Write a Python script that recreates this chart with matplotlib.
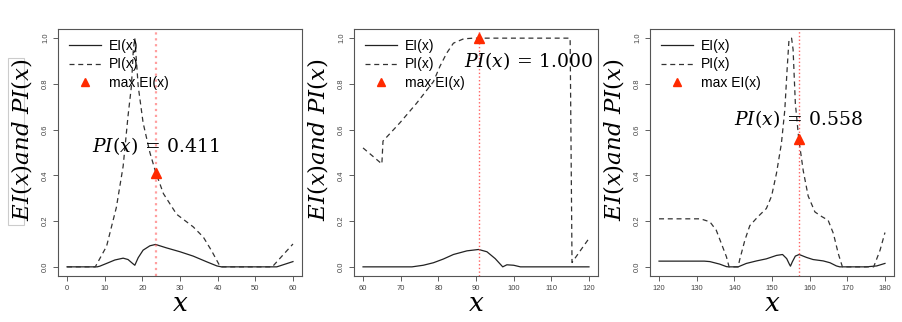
import matplotlib
matplotlib.use("Agg")
import matplotlib.pyplot as plt
from matplotlib.lines import Line2D
from matplotlib.patches import Rectangle

plt.rcParams['font.family'] = ['Liberation Sans', 'DejaVu Sans']
plt.rcParams['mathtext.fontset'] = 'dejavuserif'

# panel 1 (x 0..60)
x1 = [0, 7.5, 10.5, 13.1, 14.9, 16.2, 17.1, 17.6, 18.0, 18.9, 20.2, 22.0, 23.5, 25.6, 29.1, 33.5, 36.2, 38.4, 40.7, 54.5, 60]
pi1 = [0, 0, 0.09, 0.26, 0.44, 0.66, 0.79, 0.95, 1.0, 0.79, 0.63, 0.50, 0.416, 0.32, 0.23, 0.175, 0.13, 0.07, 0.0, 0.0, 0.10]
xe1 = [0, 8.0, 8.7, 10.5, 12.7, 14.9, 16.2, 17.4, 18.0, 18.9, 20.2, 22.0, 23.5, 26.4, 30.0, 33.5, 37.1, 39.8, 41.0, 55.7, 60]
ei1 = [0, 0, 0.003, 0.015, 0.03, 0.038, 0.032, 0.015, 0.007, 0.04, 0.073, 0.092, 0.098, 0.083, 0.066, 0.047, 0.022, 0.004, 0.0, 0.0, 0.023]

# panel 2 (x 60..120)
x2 = [60, 65.0, 65.3, 69.8, 74.2, 78.7, 80.4, 82.2, 84.0, 86.7, 89.3, 115.0, 115.5, 117.8, 120]
pi2 = [0.52, 0.45, 0.55, 0.63, 0.715, 0.81, 0.876, 0.934, 0.978, 0.997, 1.0, 1.0, 0.019, 0.073, 0.124]
xe2 = [60, 73.0, 76.0, 78.7, 81.3, 84.0, 87.6, 90.7, 92.9, 95.1, 97.1, 98.2, 100.0, 101.8, 120]
ei2 = [0, 0, 0.007, 0.018, 0.034, 0.054, 0.07, 0.076, 0.066, 0.036, 0.0, 0.009, 0.007, 0.0, 0]

# panel 3 (x 120..180)
x3 = [120, 131, 133.5, 135.2, 136.6, 137.9, 138.6, 141.0, 141.4, 142.8, 144.1, 146.3, 148.5, 149.9, 151.2, 152.5,
      153.4, 154.0, 154.5, 155.2, 155.6, 156.2, 157.1, 158.3, 159.6, 161.4, 163.2, 164.9, 166.3, 167.6, 168.7,
      177.0, 178.7, 180]
pi3 = [0.21, 0.21, 0.197, 0.16, 0.10, 0.044, 0.0, 0.0, 0.03, 0.117, 0.18, 0.22, 0.255, 0.31, 0.41, 0.54,
       0.686, 0.86, 0.99, 1.0, 0.95, 0.715, 0.56, 0.42, 0.31, 0.24, 0.22, 0.204, 0.146, 0.058, 0.0,
       0.0, 0.073, 0.15]
xe3 = [120, 132, 133.5, 136.1, 137.9, 138.5, 141.0, 143.2, 145.9, 148.5, 151.2, 152.8, 153.9, 154.6, 154.9, 155.4,
       156.2, 157.2, 159.2, 160.9, 163.6, 165.4, 167.1, 168.0, 175.0, 177.8, 180]
ei3 = [0.025, 0.025, 0.023, 0.012, 0.001, 0.0, 0.0, 0.015, 0.026, 0.035, 0.05, 0.054, 0.036, 0.012, 0.003, 0.022,
       0.047, 0.054, 0.041, 0.032, 0.026, 0.018, 0.004, 0.0, 0.0, 0.004, 0.015]

xmax = [23.5, 90.7, 157.3]
pimax = [0.411, 1.000, 0.558]
xlims = [(0, 60), (60, 120), (120, 180)]
textpos = [(23.5, 0.53), (103.8, 0.9), (157.0, 0.645)]

fig = plt.figure(figsize=(9.02, 3.22), dpi=100)
lefts = [58, 354, 650]
panels = [(x1, pi1, xe1, ei1), (x2, pi2, xe2, ei2), (x3, pi3, xe3, ei3)]

for i, (xp, pp, xe, ee) in enumerate(panels):
    ax = fig.add_axes([lefts[i] / 902, 46 / 322, 244 / 902, 247 / 322])
    lo, hi = xlims[i]
    pad = (hi - lo) * 0.04
    ax.set_xlim(lo - pad, hi + pad)
    ax.set_ylim(-0.04, 1.04)
    ax.plot(xe, ee, color='#222222', lw=0.9)
    ax.plot(xp, pp, color='#333333', lw=0.9, dashes=(4, 3))
    ax.axvline(xmax[i], color='#ff5050', lw=1.0 if i else 1.6, ls=':', alpha=0.9 if i else 0.55)
    ax.plot([xmax[i]], [pimax[i]], marker='^', color='#ff2a00', ms=7, ls='none', clip_on=False)
    ax.text(textpos[i][0], textpos[i][1], r'$PI(x)\,=\,%.3f$' % pimax[i], fontsize=13.5,
            ha='center', va='center')
    ax.set_xticks(range(lo, hi + 1, 10))
    ax.set_yticks([0, 0.2, 0.4, 0.6, 0.8, 1.0])
    ax.set_yticklabels(['0.0', '0.2', '0.4', '0.6', '0.8', '1.0'], rotation=90, va='center')
    ax.tick_params(labelsize=5.5, colors='#444444', length=3.5, width=0.6, pad=3)
    for s in ax.spines.values():
        s.set_color('#555555')
        s.set_linewidth(0.8)
    ax.set_xlabel(r'$x$', fontsize=19, labelpad=0)
    ax.set_ylabel(r'$EI(x)and\ PI(x)$', fontsize=16.5)
    ax.yaxis.set_label_coords(-0.10, 0.55)
    handles = [Line2D([], [], color='#222222', lw=0.9),
               Line2D([], [], color='#333333', lw=0.9, dashes=(4, 3)),
               Line2D([], [], marker='^', color='#ff2a00', ls='none', ms=6)]
    ax.legend(handles, ['EI(x)', 'PI(x)', 'max EI(x)'], loc='upper left', frameon=False,
              fontsize=10, handlelength=2.3, handletextpad=0.6, labelspacing=0.35,
              borderaxespad=0.2, bbox_to_anchor=(0.01, 0.995))

# faint frame around first panel label (from the source image)
fig.add_artist(Rectangle((8 / 902, 1 - 225 / 322), 16 / 902, 167 / 322, transform=fig.transFigure,
                         fill=False, ec='#cccccc', lw=0.8, zorder=0))

fig.savefig('out.png', dpi=100)
